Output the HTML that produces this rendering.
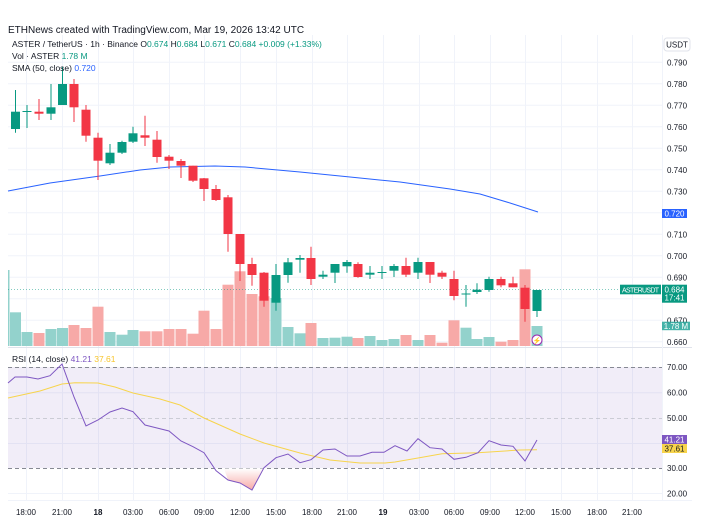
<!DOCTYPE html>
<html><head><meta charset="utf-8"><style>
html,body{margin:0;padding:0;background:#fff;}
body{width:718px;height:519px;overflow:hidden;font-family:"Liberation Sans",sans-serif;}
svg text{font-family:"Liberation Sans",sans-serif;}
</style></head><body>
<svg id="s" width="718" height="519" xmlns="http://www.w3.org/2000/svg">
<rect width="718" height="519" fill="#fff"/>
<g id="grid" stroke="#f0f3fa" stroke-width="1"></g>
<rect x="8" y="367" width="654" height="101" fill="#7e57c2" fill-opacity="0.11"/>
<line x1="8" y1="367.5" x2="662" y2="367.5" stroke="#868993" stroke-dasharray="4,3"/>
<line x1="8" y1="418.5" x2="662" y2="418.5" stroke="#b2b5be" stroke-dasharray="4,3" stroke-opacity="0.6"/>
<line x1="8" y1="468.5" x2="662" y2="468.5" stroke="#868993" stroke-dasharray="4,3"/>
<defs><linearGradient id="os" x1="0" y1="0" x2="0" y2="1"><stop offset="0" stop-color="#fff"/><stop offset="1" stop-color="#f7a9a7"/></linearGradient></defs>
<polygon points="224,468.5 228,480 240,483 252,490 264,468.5" fill="url(#os)"/>
<g id="vol"></g>
<line x1="8" y1="289.5" x2="620" y2="289.5" stroke="#089981" stroke-opacity="0.5" stroke-dasharray="1,2"/>
<polyline fill="none" stroke="#2962ff" stroke-width="1" points="8,191 50,183 100,176 140,170 170,167 215,166 245,167 300,172 350,177 400,182 450,189 480,194 510,203 538,212"/>
<g id="cndl"></g>
<polyline fill="none" stroke="#f7d44c" stroke-width="1" points="8,398 40,391 62,384 75,382.7 98,383 115,387 133,393 160,399 180,405 204,418 240,434 264,443 300,453 330,460 360,463 385,463 395,462 418,458 442,453.7 478,452.7 520,450 537,449.7"/>
<polyline fill="none" stroke="#7e57c2" stroke-width="1" points="8,383 15,377 27,377 38,379 50,375.7 62,364 74,397 86,426 98,420 110,412 122,408 133,411.7 145,425 157,428 169,431 181,441 193,446.7 204,452.7 216,470.7 228,480 240,483 252,490 264,467.7 276,457.7 288,454 300,462.7 311,459.7 323,450 335,449 347,456 360,456 372,452.3 384,452.3 395,445.7 407,451 418,438.7 430,447.7 442,449 454,459.3 466,457.3 478,452.7 489,440.7 501,445 513,446.3 525,461 537,440"/>
<circle cx="537" cy="340" r="5" fill="#fff" stroke="#9c27b0" stroke-width="1"/>
<text x="537" y="343" font-size="7" fill="#9c27b0" text-anchor="middle">⚡</text>
<line x1="8" y1="347.5" x2="692" y2="347.5" stroke="#e0e3eb"/>
<line x1="662.5" y1="35" x2="662.5" y2="500" stroke="#f0f3fa"/>
<line x1="8" y1="500.5" x2="692" y2="500.5" stroke="#f0f3fa"/>
<text x="8" y="33" font-size="10" fill="#131722">ETHNews created with TradingView.com, Mar 19, 2026 13:42 UTC</text>
<text x="12" y="47" font-size="8.5" fill="#131722">ASTER / TetherUS · 1h · Binance  O<tspan fill="#089981">0.674</tspan>  H<tspan fill="#089981">0.684</tspan>  L<tspan fill="#089981">0.671</tspan>  C<tspan fill="#089981">0.684  +0.009 (+1.33%)</tspan></text>
<text x="12" y="59" font-size="8.5" fill="#131722">Vol · ASTER  <tspan fill="#089981">1.78 M</tspan></text>
<text x="12" y="67" font-size="8.5" fill="#131722" dy="4">SMA (50, close)  <tspan fill="#2962ff">0.720</tspan></text>
<text x="12" y="362" font-size="8.5" fill="#131722">RSI (14, close)  <tspan fill="#7e57c2">41.21</tspan>  <tspan fill="#f7c52c">37.61</tspan></text>
<rect x="664" y="38" width="26" height="13" rx="3" fill="#fff" stroke="#e0e3eb"/>
<text x="677" y="47.5" font-size="8" fill="#131722" text-anchor="middle">USDT</text>
<g id="pax" font-size="8" fill="#131722"></g>
<rect x="662" y="209" width="25" height="9" fill="#2962ff"/>
<text x="674.5" y="216.5" font-size="8" fill="#fff" text-anchor="middle">0.720</text>
<rect x="620" y="284.7" width="41" height="9.6" fill="#089981"/>
<text x="640.5" y="292.3" font-size="7" fill="#fff" text-anchor="middle" textLength="37">ASTERUSDT</text>
<rect x="662" y="284.7" width="25" height="18" fill="#089981"/>
<text x="674.5" y="292.5" font-size="8" fill="#fff" text-anchor="middle">0.684</text>
<text x="674.5" y="300.5" font-size="8" fill="#fff" text-anchor="middle">17:41</text>
<rect x="662" y="321.7" width="28" height="8.5" fill="#26a69a" fill-opacity="0.85"/>
<text x="676" y="329" font-size="8" fill="#fff" text-anchor="middle">1.78 M</text>
<g font-size="8" fill="#131722">
<text x="667" y="370">70.00</text><text x="667" y="395.5">60.00</text><text x="667" y="421">50.00</text><text x="667" y="471">30.00</text><text x="667" y="496.5">20.00</text>
</g>
<rect x="662" y="435" width="25" height="9" fill="#7e57c2"/>
<text x="674.5" y="442.5" font-size="8" fill="#fff" text-anchor="middle">41.21</text>
<rect x="662" y="444" width="25" height="9" fill="#f7d44c"/>
<text x="674.5" y="451.5" font-size="8" fill="#131722" text-anchor="middle">37.61</text>
<g font-size="8" fill="#131722" text-anchor="middle">
<text x="26" y="515">18:00</text><text x="62" y="515">21:00</text><text x="98" y="515" font-weight="bold">18</text><text x="133" y="515">03:00</text><text x="169" y="515">06:00</text><text x="204" y="515">09:00</text><text x="240" y="515">12:00</text><text x="276" y="515">15:00</text><text x="312" y="515">18:00</text><text x="347" y="515">21:00</text><text x="383" y="515" font-weight="bold">19</text><text x="419" y="515">03:00</text><text x="454" y="515">06:00</text><text x="490" y="515">09:00</text><text x="525" y="515">12:00</text><text x="561" y="515">15:00</text><text x="597" y="515">18:00</text><text x="632" y="515">21:00</text>
</g>
</svg>
<script>
var NS="http://www.w3.org/2000/svg";
function el(p,t,a){var e=document.createElementNS(NS,t);for(var k in a)e.setAttribute(k,a[k]);document.getElementById(p).appendChild(e);return e;}
var vx=[26,62,98,133,169,204,240,276,312,347,383,419,454,490,525,561,597,632];
vx.forEach(function(x){el('grid','line',{x1:x+.5,y1:35,x2:x+.5,y2:500});});
var pl=['0.790','0.780','0.770','0.760','0.750','0.740','0.730','0.720','0.710','0.700','0.690','0.680','0.670','0.660'];
for(var i=0;i<14;i++){var y=62.3+i*21.5;el('grid','line',{x1:8,y1:y,x2:662,y2:y});
if(i!=7&&i!=11){var t=el('pax','text',{x:667,y:y+3});t.textContent=pl[i];}}
[392.7,443.5,493.5].forEach(function(y){el('grid','line',{x1:8,y1:y,x2:662,y2:y});});
var C=[[15.5,111.7,129,90,132.7,1],[27,111,112,105,128,1],[39,111.7,113.7,99,120,0],[51,107.3,113.7,84,120,1],[62.5,84,105,66.7,105,1],[74,84,107.3,79,122,0],[86,109.7,135.7,105,141.7,0],[98,137.7,160.7,132.7,180,0],[110,152.7,163.3,144,165,1],[122,142,152.7,140.7,154,1],[133,133.3,141.7,126.7,143,1],[145,135.3,137.7,115.7,146,0],[157,139.7,157,131,162.7,0],[169,156.7,160.7,155,169,0],[181,161,165.7,159,178,0],[193,165.7,180.7,165.7,182,0],[204,178.3,189,178,201,0],[216,189,200,185,201,0],[228,197.3,234,195,251.7,0],[240,234,264,234,281,0],[252,264,275,257.7,285.7,0],[264,272.7,300.7,272,306.7,0],[276,275,302.7,264,310.7,1],
[288,262.3,275,258,282.7,1],[300,258,259.7,255,272.7,1],[311,258,279,246.7,285,0],[323,274.7,276.7,270.7,279,1],[335,264,272.7,264,283,1],[347,262,266.3,260,272.7,1],[358,264,277,262.3,277.7,0],[370,272.7,274.7,266,279,1],[382,272,273,266,279,1],[394,266,270.7,264,277,1],[406,266,274.7,257.7,277,0],[418,262,272.7,257.7,279,1],[430,262,274.7,262,283,0],[442,272.7,276.7,270.7,279,0],[454,279,296,270.7,300.3,0],[466,293.5,294.5,285,306.7,1],[477,289.7,292,283.3,294,1],[489,279,290,276.7,291.7,1],[501,279,285.3,276.7,287.3,0],[513,283.3,287.3,276.7,287.3,0],[525,287.7,309,285,321.7,0],[537,290,311,290,317,1]];
var V=[312.3,332,333,329,328,325,328,306.7,332,334.7,330,331.3,331.3,329,329,333.7,310.7,329,284.7,271.3,294,296.3,298,327,333.3,323,338,337.7,336.7,338,336,340,339,335,340,335,342.7,320.3,327.7,339,337,341.7,340,269.3,326];
el('vol','rect',{x:8,y:270,width:1.5,height:76,fill:'#93d2cc'});
C.forEach(function(c,i){var g=c[5],col=g?'#089981':'#f23645';
el('vol','rect',{x:c[0]-5.5,y:V[i],width:11,height:346-V[i],fill:g?'#93d2cc':'#f7a9a7'});
el('cndl','line',{x1:c[0],y1:c[3],x2:c[0],y2:c[4],stroke:col,'stroke-width':1});
el('cndl','rect',{x:c[0]-4.5,y:c[1],width:9,height:Math.max(1,c[2]-c[1]),fill:col});});
</script>
</body></html>
